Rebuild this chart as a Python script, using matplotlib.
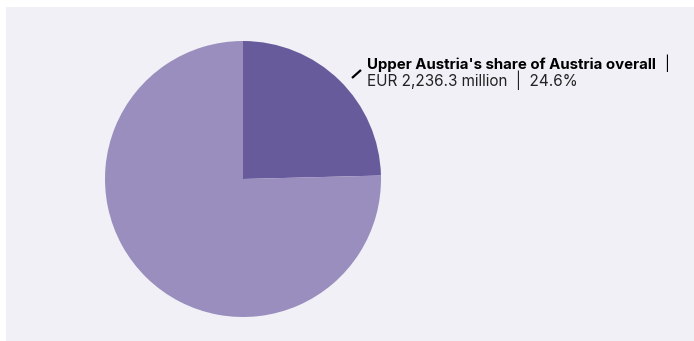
import matplotlib
matplotlib.use("Agg")
import matplotlib.pyplot as plt
from matplotlib.patches import Rectangle

# Data
categories = ["Upper Austria", "Rest of Austria"]
shares = [24.6, 75.4]
value_label = "EUR 2,236.3 million"
title_label = "Upper Austria's share of Austria overall"

colors = ["#675b9c", "#9a8ebe"]
panel_color = "#f1f0f6"

W, H = 694, 341
fig = plt.figure(figsize=(W / 100, H / 100), dpi=100)
fig.patch.set_facecolor("white")

# Light background panel
panel = Rectangle((6 / W, 0), 1 - 6 / W, 1 - 7 / H,
                  transform=fig.transFigure,
                  facecolor=panel_color, edgecolor="none", zorder=-10)
fig.patches.append(panel)

# Pie axes: centre (243, 179) px, radius 138 px
cx, cy, r = 243, 179, 138
ax = fig.add_axes([(cx - r) / W, (H - cy - r) / H, 2 * r / W, 2 * r / H])
ax.pie(shares, colors=colors, startangle=90, counterclock=False,
       wedgeprops=dict(linewidth=0))
ax.set_xlim(-1, 1)
ax.set_ylim(-1, 1)
ax.set_aspect("equal")
ax.set_axis_off()

# Leader line from the highlighted slice
ax.plot([0.79, 0.855], [0.732, 0.79], color="black", lw=1.6, clip_on=False,
        solid_capstyle="butt")

# Label text
fam = ["Inter", "DejaVu Sans"]
fig.text(367 / W, 1 - 69 / H, title_label, fontsize=10.8,
         fontweight="bold", family=fam, color="black", va="baseline")
fig.text(664 / W, 1 - 69 / H, "|", fontsize=10.5, family=fam,
         color="black", va="baseline")
fig.text(367 / W, 1 - 86 / H, f"{value_label}  |  {shares[0]}%", fontsize=11.0,
         family=fam, color="#222222", va="baseline")

fig.savefig("out.png", dpi=100, facecolor=fig.get_facecolor())
